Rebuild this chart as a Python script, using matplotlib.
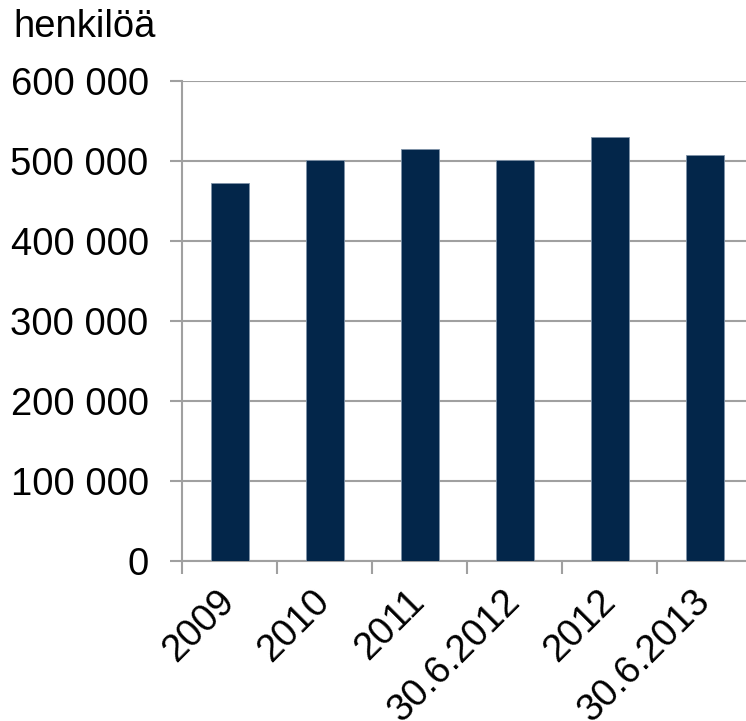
import matplotlib
matplotlib.use("Agg")
import matplotlib.pyplot as plt
from matplotlib.ticker import FuncFormatter

categories = ["2009", "2010", "2011", "30.6.2012", "2012", "30.6.2013"]
values = [472000, 501000, 515000, 501000, 529500, 507500]
yticks = [0, 100000, 200000, 300000, 400000, 500000, 600000]

plt.rcParams['font.family'] = ['Liberation Sans', 'DejaVu Sans']

W, H = 746, 721
fig = plt.figure(figsize=(W/100, H/100), dpi=100)
ax = fig.add_axes([182/W, 1-561/H, (752-182)/W, (561-81)/H])

x = list(range(len(categories)))
ax.bar(x, values, width=0.4, color='#03264A', edgecolor='#7f93a8', linewidth=0.6, zorder=3)
ax.set_xlim(-0.5, len(categories)-0.5)
ax.set_ylim(0, 600000)
ax.set_yticks(yticks)
ax.yaxis.set_major_formatter(FuncFormatter(lambda v, p: f"{int(v):,}".replace(",", " ")))
ax.grid(axis='y', color='#a0a0a0', linewidth=1.5, zorder=0)
ax.set_axisbelow(True)

for s in ['top', 'right']:
    ax.spines[s].set_visible(False)
for s in ['left', 'bottom']:
    ax.spines[s].set_color('#a0a0a0')
    ax.spines[s].set_linewidth(1.5)

ax.set_xticks([i - 0.5 for i in range(len(categories))] + [len(categories)-0.5], minor=False)
ax.set_xticklabels([])
ax.set_xticks(x, minor=True)
ax.set_xticklabels(categories, minor=True, rotation=45, ha='right', va='center',
                   rotation_mode='anchor', fontsize=27.5)
ax.tick_params(axis='x', which='minor', length=0, pad=25)
ax.tick_params(axis='x', which='major', length=9, width=1.5, color='#a0a0a0', direction='out')
ax.tick_params(axis='y', length=9, width=1.5, color='#a0a0a0', labelsize=27.5, pad=15)

fig.text(13/W, 1-37/H, "henkilöä", fontsize=27.5, ha='left', va='baseline')

fig.savefig("out.png", dpi=100)
